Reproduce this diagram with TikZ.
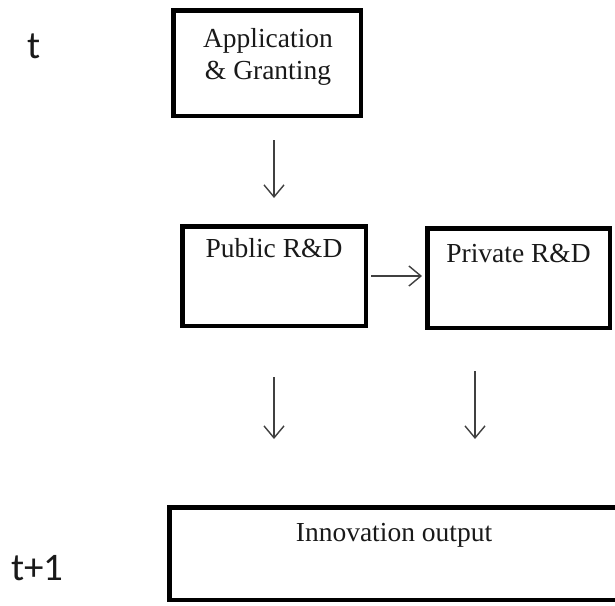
\documentclass[tikz,border=0pt]{standalone}
\usepackage{fontspec}
\setmainfont{Liberation Serif}
\newfontfamily\calibrifont{Carlito}
\usetikzlibrary{arrows.meta}
\begin{document}
\begin{tikzpicture}[x=1pt,y=-1pt,
  boxnode/.style={draw=black,line width=4.5pt,rectangle,inner sep=0pt,fill=none},
  boxtext/.style={font=\fontsize{27.5}{31.5}\selectfont,anchor=base,inner sep=0pt,text=black!90},
  timetext/.style={font=\calibrifont\fontsize{39}{44}\selectfont,anchor=base west,inner sep=0pt,text=black!90},
  flow/.style={line width=1.4pt,draw=black!75,-{Straight Barb[length=12pt,width=20pt,line width=1.4pt]}}]
\clip (0,0) rectangle (615,605);
\useasboundingbox (0,0) rectangle (615,605);
\fill[white] (0,0) rectangle (615,605);
% boxes
\node[boxnode,minimum width=187.5pt,minimum height=105.5pt] (app) at (267,63) {};
\node[boxnode,minimum width=183.5pt,minimum height=99.5pt] (pub) at (274,276) {};
\node[boxnode,minimum width=182.5pt,minimum height=99.5pt] (priv) at (518.5,278) {};
\node[boxnode,minimum width=453.5pt,minimum height=92.5pt] (inno) at (396,553.5) {};
% texts
\node[boxtext] (apptxt1) at (268,47) {Application};
\node[boxtext] (apptxt2) at (268,79) {\& Granting};
\node[boxtext] (pubtxt) at (274,257) {Public R\&D};
\node[boxtext] (privtxt) at (518.5,262) {Private R\&D};
\node[boxtext] (innotxt) at (394,541) {Innovation output};
\node[timetext] (tlab) at (27,58) {t};
\node[timetext] (t1lab) at (11,580) {t+1};
% arrows
\draw[flow,shorten <=22pt,shorten >=26pt] (app.south -| pub.north) -- (pub.north);
\draw[flow,shorten <=3pt,shorten >=3pt] (pub.east) -- (pub.east -| priv.west);
\draw[flow,shorten <=49pt,shorten >=66pt] (pub.south) -- (pub.south |- inno.north);
\draw[flow,shorten <=41pt,shorten >=66pt] ([xshift=-43.5pt]priv.south) -- ([xshift=-43.5pt]priv.south |- inno.north);
\end{tikzpicture}
\end{document}
